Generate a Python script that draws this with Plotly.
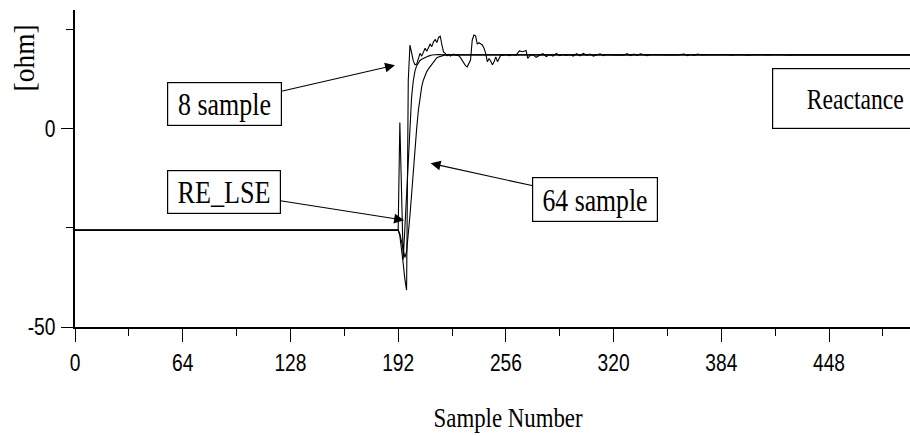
import plotly.graph_objects as go

# ---------------- data ----------------
x_tickvals = [0, 64, 128, 192, 256, 320, 384, 448]
y_tickvals = [0, -50]
y_minor_tickvals = [-25, 25]

# 8-sample window estimate (fast, noisy)
s8_x = [0, 192, 193, 194, 195, 196, 197, 198, 199, 200, 201, 202, 203, 204, 205, 206, 207, 208, 209, 210,
        211, 212, 213, 214, 215, 216, 217, 218, 219, 220, 221, 222, 223, 224, 225, 226, 227, 228, 229, 230,
        231, 232, 233, 234, 235, 236, 237, 238, 239, 240, 241, 242, 243, 244, 245, 246, 247, 248, 249, 250,
        251, 252, 253, 254, 256, 258, 260, 262, 264, 266, 268, 269, 270, 272, 274, 276, 278, 280, 282, 284,
        286, 288, 290, 292, 294, 296, 298, 300, 302, 304, 306, 308, 310, 312, 314, 316, 318, 322, 326, 328,
        330, 332, 334, 336, 338, 340, 342, 346, 352, 358, 362, 364, 366, 368, 370, 372, 380, 386, 390, 394,
        400, 406, 412, 418, 424, 430, 511]
s8_y = [-25.6, -25.6, -27.0, -30.0, -34.0, -38.0, -40.7, 12.0, 21.0, 19.0, 17.0, 16.0, 16.2, 17.5, 18.9, 18.2, 19.5, 20.2, 19.4, 20.5,
        21.2, 20.6, 21.8, 22.4, 21.6, 22.9, 23.2, 21.0, 19.2, 18.9, 18.3, 18.6, 18.2, 18.5, 18.7, 18.5, 18.4, 18.3, 17.8, 17.2,
        16.3, 15.8, 15.5, 16.5, 17.2, 22.2, 23.5, 23.3, 21.2, 21.6, 21.3, 21.0, 20.2, 18.9, 16.8, 17.6, 16.9, 16.0, 16.8, 18.0,
        16.8, 17.6, 18.5, 18.4, 18.6, 18.3, 18.6, 18.4, 19.5, 19.3, 19.6, 17.6, 18.2, 18.6, 17.9, 18.4, 18.8, 18.1, 18.6, 18.2,
        18.9, 18.3, 18.6, 18.4, 18.6, 18.2, 18.8, 18.3, 18.9, 18.4, 18.7, 18.2, 18.6, 18.8, 18.3, 18.6, 18.5, 18.5, 18.4, 18.8,
        18.3, 18.7, 18.4, 18.8, 18.5, 18.3, 18.6, 18.5, 18.5, 18.5, 18.7, 18.3, 18.6, 18.4, 18.7, 18.5, 18.5, 18.6, 18.4, 18.6,
        18.4, 18.6, 18.5, 18.6, 18.4, 18.5, 18.5]

# 64-sample window estimate (slow, smooth)
s64_x = [0, 192, 193, 194, 195, 196, 197, 198, 199, 200, 201, 202, 203, 204, 205, 206, 207, 208, 209, 210,
         211, 212, 213, 214, 215, 216, 218, 220, 511]
s64_y = [-25.6, -25.6, -26.5, -28.5, -31.0, -32.5, -31.0, -27.0, -22.0, -16.5, -10.5, -5.0, 0.0, 4.5, 8.0, 10.5, 12.2, 13.5, 14.3, 15.0,
         15.6, 16.2, 16.9, 17.5, 17.8, 18.0, 18.3, 18.5, 18.5]

# RE_LSE estimate (spike, then quick settle)
lse_x = [0, 192, 193, 194, 195, 196, 197, 198, 199, 200, 201, 202, 203, 204, 205, 206, 208, 210, 212, 216, 220, 511]
lse_y = [-25.6, -25.6, 1.5, -20.0, -33.0, -25.0, -17.0, -8.0, 2.0, 8.0, 12.0, 14.5, 15.8, 16.6, 17.1, 17.4, 17.9, 18.2, 18.5, 18.6, 18.5, 18.5]

# label boxes: text, arrow tip (sample, ohm), box centre (sample, ohm), box size px
labels = ["8 sample", "RE_LSE", "64 sample"]
label_tip_x = [190.1, 195.5, 211.3]
label_tip_y = [15.9, -23.1, -8.8]
label_box_x = [88.8, 88.5, 309.2]
label_box_y = [6.1, -16.0, -17.9]
label_box_w = [115, 114, 126]
label_box_h = [44, 44, 45]

# ---------------- figure ----------------
W, H = 910, 436
L, R, T, B = 75, 0, 10, 109.3
PW, PH = W - L - R, H - T - B


def paper_x(px):
    return (px - L) / PW


def paper_y(py):
    return (H - B - py) / PH


fig = go.Figure()
line = dict(color="black", width=1.1)
for name, xs, ys in [("8 sample", s8_x, s8_y), ("64 sample", s64_x, s64_y), ("RE_LSE", lse_x, lse_y)]:
    fig.add_trace(go.Scatter(x=xs, y=ys, mode="lines", line=line, name=name, showlegend=False,
                             hoverinfo="skip"))

serif = "Liberation Serif, Times New Roman, serif"
sans = "Liberation Sans, Arial, sans-serif"

annotations = []
for txt, tx, ty, bx, by, bw, bh in zip(labels, label_tip_x, label_tip_y, label_box_x, label_box_y,
                                         label_box_w, label_box_h):
    annotations.append(dict(
        x=tx, y=ty, xref="x", yref="y", ax=bx, ay=by, axref="x", ayref="y",
        text=txt, showarrow=True, arrowhead=2, arrowsize=1.8, arrowwidth=1.1, arrowcolor="black",
        font=dict(family=serif, size=32, color="black"),
        bordercolor="black", borderwidth=1.2, borderpad=0, bgcolor="white",
        width=bw - 2.4, height=bh - 2.4, align="center", valign="middle"))

annotations.append(dict(
    x=463.5, y=7.46, xref="x", yref="y", text="Reactance", showarrow=False,
    font=dict(family=serif, size=30, color="black"),
    bordercolor="black", borderwidth=1.2, borderpad=0, bgcolor="white",
    width=164, height=58.5, xanchor="center", yanchor="middle", align="center", valign="middle"))

annotations.append(dict(
    x=paper_x(507.5), y=paper_y(418), xref="paper", yref="paper", text="Sample Number",
    showarrow=False, font=dict(family=serif, size=27, color="black"),
    xanchor="center", yanchor="middle"))

annotations.append(dict(
    x=paper_x(23.5), y=paper_y(58), xref="paper", yref="paper", text="[ohm]", textangle=-90,
    showarrow=False, font=dict(family=serif, size=30, color="black"),
    xanchor="center", yanchor="middle"))

fig.update_layout(
    width=W, height=H, margin=dict(l=L, r=R, t=T, b=B, pad=0),
    paper_bgcolor="white", plot_bgcolor="white",
    annotations=annotations,
    xaxis=dict(range=[0, 496.1], tickvals=x_tickvals, ticks="outside", ticklen=13, tickwidth=1.3,
               tickcolor="black", showline=True, linewidth=2, linecolor="black", showgrid=False,
               zeroline=False, tickfont=dict(family=sans, size=24, color="black"),
               ticklabelstandoff=0,
               minor=dict(dtick=32, tick0=0, ticks="outside", ticklen=7, tickwidth=1.3, tickcolor="black",
                          showgrid=False)),
    yaxis=dict(range=[-50, 29.81], tickvals=y_tickvals, ticktext=["0", "-50"], ticks="outside", ticklen=12,
               tickwidth=1.3, tickcolor="black", showline=True, linewidth=1.5, linecolor="black",
               showgrid=False, zeroline=False, tickfont=dict(family=sans, size=24, color="black"),
               ticklabelstandoff=1,
               minor=dict(tickvals=y_minor_tickvals, ticks="outside", ticklen=7, tickwidth=1.3,
                          tickcolor="black", showgrid=False)),
)

post = """
document.documentElement.style.margin = '0';
document.body.style.margin = '0';
document.body.style.padding = '0';
document.body.style.overflow = 'hidden';
var gd = document.getElementById('{plot_id}');
var targets = {"8 sample": 93, "RE_LSE": 93, "64 sample": 105, "Reactance": 97,
               "Sample Number": 149, "[ohm]": 67};
gd.querySelectorAll('text.annotation-text').forEach(function(t){
  var k = t.textContent;
  if (targets[k]) {
    t.setAttribute('lengthAdjust', 'spacingAndGlyphs');
    t.setAttribute('textLength', targets[k]);
  }
});
gd.querySelectorAll('g.xtick text, g.ytick text').forEach(function(t){
  var w = t.getComputedTextLength();
  t.setAttribute('lengthAdjust', 'spacingAndGlyphs');
  t.setAttribute('textLength', (w * 0.8).toFixed(1));
});
"""

fig.write_html("out.html", post_script=post, config={"displayModeBar": False})
